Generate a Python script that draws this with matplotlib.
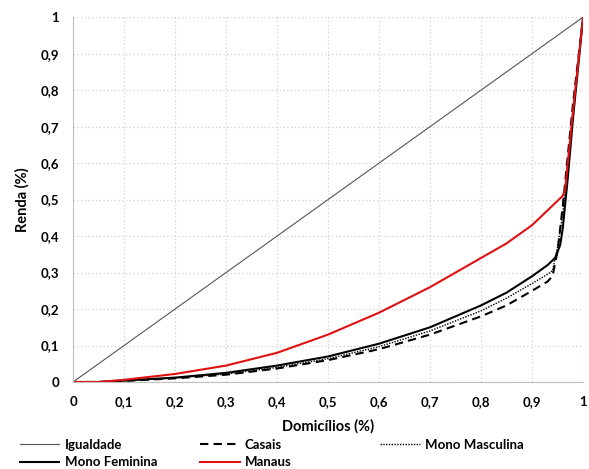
import matplotlib.pyplot as plt
from matplotlib.ticker import FixedLocator

# data (Lorenz curves)
x_igual = [0, 1]
y_igual = [0, 1]

x_fem = [0, 0.05, 0.1, 0.2, 0.3, 0.4, 0.5, 0.6, 0.7, 0.8, 0.85, 0.9, 0.93, 0.945, 0.955, 0.96, 0.97, 0.98, 0.99, 1.0]
y_fem = [0, 0.0, 0.004, 0.012, 0.025, 0.045, 0.07, 0.105, 0.15, 0.21, 0.245, 0.29, 0.32, 0.34, 0.375, 0.42, 0.56, 0.72, 0.86, 1.0]

x_cas = [0, 0.05, 0.1, 0.2, 0.3, 0.4, 0.5, 0.6, 0.7, 0.8, 0.85, 0.9, 0.93, 0.94, 0.95, 0.96, 0.97, 0.98, 0.99, 1.0]
y_cas = [0, 0.0, 0.003, 0.01, 0.02, 0.037, 0.06, 0.09, 0.13, 0.18, 0.21, 0.25, 0.275, 0.29, 0.36, 0.48, 0.62, 0.76, 0.88, 1.0]

x_masc = [0, 0.05, 0.1, 0.2, 0.3, 0.4, 0.5, 0.6, 0.7, 0.8, 0.85, 0.9, 0.93, 0.94, 0.95, 0.96, 0.97, 0.98, 0.99, 1.0]
y_masc = [0, 0.0, 0.003, 0.011, 0.022, 0.04, 0.064, 0.097, 0.14, 0.195, 0.23, 0.27, 0.295, 0.305, 0.37, 0.46, 0.6, 0.74, 0.87, 1.0]

x_man = [0, 0.05, 0.1, 0.2, 0.3, 0.4, 0.5, 0.6, 0.7, 0.8, 0.85, 0.9, 0.93, 0.96, 0.965, 0.97, 0.98, 0.99, 1.0]
y_man = [0, 0.0, 0.006, 0.022, 0.045, 0.08, 0.13, 0.19, 0.26, 0.34, 0.38, 0.43, 0.47, 0.51, 0.53, 0.6, 0.74, 0.87, 1.0]

ticks = [0, 0.1, 0.2, 0.3, 0.4, 0.5, 0.6, 0.7, 0.8, 0.9, 1.0]
tick_labels = ['0', '0,1', '0,2', '0,3', '0,4', '0,5', '0,6', '0,7', '0,8', '0,9', '1']

plt.rcParams['font.family'] = ['Lato', 'DejaVu Sans']

fig = plt.figure(figsize=(5.89, 4.69), dpi=100)
ax = fig.add_axes([0.124, 0.1855, 0.866, 0.778])

l1, = ax.plot(x_igual, y_igual, color='#555555', lw=0.8, label='Igualdade')
l2, = ax.plot(x_cas, y_cas, color='black', lw=1.5, ls=(0, (4, 2.5)), label='Casais')
l3, = ax.plot(x_masc, y_masc, color='black', lw=1.0, ls=(0, (1, 1)), label='Mono Masculina')
l4, = ax.plot(x_fem, y_fem, color='black', lw=1.5, label='Mono Feminina')
l5, = ax.plot(x_man, y_man, color='#e01010', lw=1.5, label='Manaus')

ax.set_xlim(0, 1)
ax.set_ylim(0, 1)
ax.xaxis.set_major_locator(FixedLocator(ticks))
ax.yaxis.set_major_locator(FixedLocator(ticks))
ax.set_xticklabels(tick_labels, fontweight='bold', fontsize=9.5)
ax.set_yticklabels(tick_labels, fontweight='bold', fontsize=9.5)
ax.tick_params(length=0, pad=10)
ax.grid(True, color='#d0d0d0', ls=(0, (1, 2)), lw=0.9)
for s in ['top', 'right']:
    ax.spines[s].set_visible(False)
for s in ['left', 'bottom']:
    ax.spines[s].set_color('#bfbfbf')

ax.set_xlabel('Domicílios (%)', fontweight='bold', fontsize=10.5, labelpad=8)
ax.set_ylabel('Renda (%)', fontweight='bold', fontsize=10.5, labelpad=8)

# legend in three columns placed like the reference
cols = [([l1, l4], 0.02), ([l2, l5], 0.326), ([l3], 0.632)]
for hs, x0 in cols:
    leg = fig.legend(handles=hs, loc='lower left', bbox_to_anchor=(x0, -0.015),
                     frameon=False, prop={'weight': 'bold', 'size': 9.5},
                     handlelength=3.0, labelspacing=0.4, handletextpad=0.4,
                     borderaxespad=0.3, borderpad=0.3)
    if len(hs) == 1:
        leg.set_bbox_to_anchor((x0, 0.022))

fig.savefig('out.png', dpi=100)
